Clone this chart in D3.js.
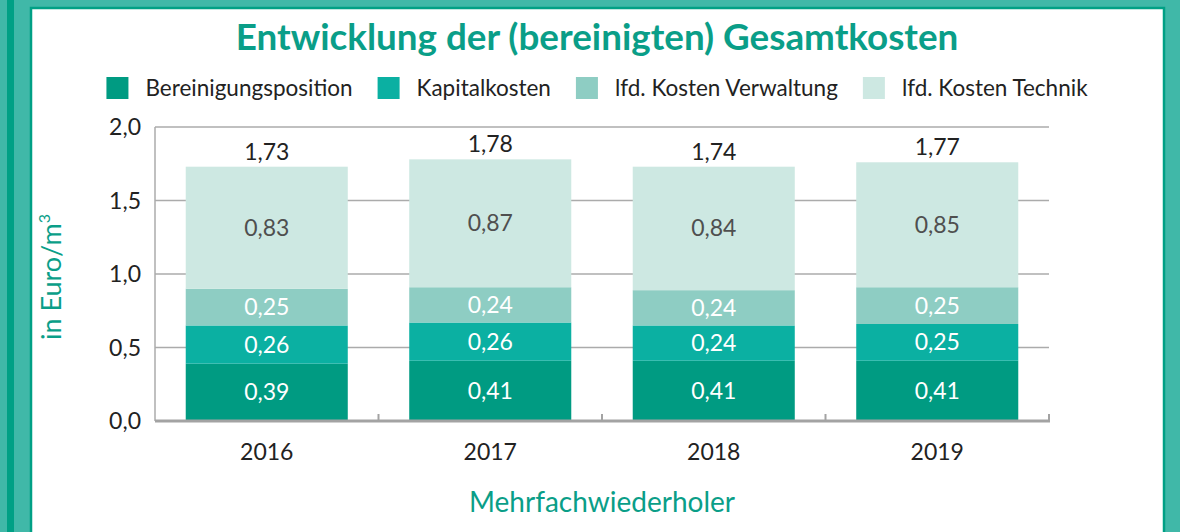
<!DOCTYPE html>
<html>
<head>
<meta charset="utf-8">
<script src="https://cdn.jsdelivr.net/npm/d3@7"></script>
<style>
  body { margin: 0; background: #fff; }
  svg { display: block; font-family: Lato, "Open Sans", sans-serif; }
</style>
</head>
<body>
<svg id="chart" width="1180" height="532"></svg>
<script>
// data
const years = ['2016', '2017', '2018', '2019'];
const seriesNames = ['Bereinigungsposition', 'Kapitalkosten', 'lfd. Kosten Verwaltung', 'lfd. Kosten Technik'];
const bereinigung = [0.39, 0.41, 0.41, 0.41];
const kapital = [0.26, 0.26, 0.24, 0.25];
const verwaltung = [0.25, 0.24, 0.24, 0.25];
const technik = [0.83, 0.87, 0.84, 0.85];
const totals = [1.73, 1.78, 1.74, 1.77];
const yTicks = [0, 0.5, 1.0, 1.5, 2.0];

const colors = ['#009b82', '#0bb0a2', '#8ecdc3', '#cde8e2'];
const labelColors = ['#fff', '#fff', '#fff', '#4f4f4f'];
const teal = '#0a9e88';
const frameLight = '#40b8a8';
const frameDark = '#00a085';

const W = 1180, H = 532;
const plot = { left: 155, right: 1049, top: 127, bottom: 421 };

const de = d3.formatLocale({ decimal: ',', thousands: '.', grouping: [3], currency: ['', ' €'] });
const f1 = de.format('.1f');
const f2 = de.format('.2f');

const svg = d3.select('#chart');

// frame
svg.append('rect').attr('width', W).attr('height', H).attr('fill', frameLight);
svg.append('rect').attr('x', 7).attr('y', 0).attr('width', 7).attr('height', H).attr('fill', frameDark);
svg.append('rect')
  .attr('x', 31).attr('y', 8).attr('width', 1133).attr('height', H)
  .attr('fill', '#fff').attr('stroke', frameDark).attr('stroke-width', 2.5);

// title
const title = svg.append('text')
  .attr('x', 597).attr('y', 50)
  .attr('text-anchor', 'middle')
  .attr('font-weight', 700)
  .attr('font-size', 32)
  .attr('fill', teal)
  .text('Entwicklung der (bereinigten) Gesamtkosten');
const tLen = title.node().getComputedTextLength();
title.attr('font-size', 32 * 723 / tLen);

// legend
const legend = svg.append('g');
let lx = 0;
seriesNames.forEach((name, i) => {
  const g = legend.append('g').attr('transform', `translate(${lx},0)`);
  g.append('rect').attr('x', 0).attr('y', -11).attr('width', 22).attr('height', 22).attr('fill', colors[i]);
  const t = g.append('text')
    .attr('x', 39).attr('y', 8)
    .attr('font-size', 22.5)
    .attr('fill', '#222')
    .text(name);
  lx += 39 + t.node().getComputedTextLength() + 25;
});
lx -= 25;
legend.attr('transform', `translate(${597 - lx / 2},88)`);

// scales
const x = d3.scaleBand().domain(years).range([plot.left, plot.right])
  .paddingInner(0.275).paddingOuter(0.1375);
const y = d3.scaleLinear().domain([0, 2]).range([plot.bottom, plot.top]);

// gridlines
svg.append('g').selectAll('line')
  .data(yTicks.filter(d => d > 0))
  .join('line')
  .attr('x1', plot.left).attr('x2', plot.right)
  .attr('y1', d => y(d)).attr('y2', d => y(d))
  .attr('stroke', '#ababab').attr('stroke-width', 1.5);

svg.append('line')
  .attr('x1', plot.left).attr('x2', plot.left)
  .attr('y1', y(2)).attr('y2', y(0))
  .attr('stroke', '#ababab').attr('stroke-width', 1.5);

// y tick labels
svg.append('g').selectAll('text')
  .data(yTicks)
  .join('text')
  .attr('x', 141).attr('y', d => y(d) + 8)
  .attr('text-anchor', 'end')
  .attr('font-size', 23)
  .attr('fill', '#222')
  .text(d => f1(d));

// stacked bars
const table = years.map((yr, i) => ({
  year: yr,
  [seriesNames[0]]: bereinigung[i],
  [seriesNames[1]]: kapital[i],
  [seriesNames[2]]: verwaltung[i],
  [seriesNames[3]]: technik[i]
}));
const stacked = d3.stack().keys(seriesNames)(table);

const layers = svg.append('g').selectAll('g')
  .data(stacked)
  .join('g')
  .attr('fill', (d, i) => colors[i]);

layers.selectAll('rect')
  .data(d => d)
  .join('rect')
  .attr('x', d => x(d.data.year))
  .attr('width', x.bandwidth())
  .attr('y', d => y(d[1]))
  .attr('height', d => y(d[0]) - y(d[1]));

stacked.forEach((layer, li) => {
  svg.append('g').selectAll('text')
    .data(layer)
    .join('text')
    .attr('x', d => x(d.data.year) + x.bandwidth() / 2)
    .attr('y', d => (y(d[0]) + y(d[1])) / 2 + 8)
    .attr('text-anchor', 'middle')
    .attr('font-size', 23)
    .attr('fill', labelColors[li])
    .text(d => f2(d[1] - d[0]));
});

// totals
const topLayer = stacked[stacked.length - 1];
svg.append('g').selectAll('text')
  .data(years)
  .join('text')
  .attr('x', d => x(d) + x.bandwidth() / 2)
  .attr('y', (d, i) => y(topLayer[i][1]) - 7)
  .attr('text-anchor', 'middle')
  .attr('font-size', 23)
  .attr('fill', '#222')
  .text((d, i) => f2(totals[i]));

// x axis
svg.append('line')
  .attr('x1', plot.left).attr('x2', plot.right + 1)
  .attr('y1', plot.bottom).attr('y2', plot.bottom)
  .attr('stroke', '#a3a3a3').attr('stroke-width', 3);

svg.append('g').selectAll('line')
  .data(d3.range(1, years.length + 1))
  .join('line')
  .attr('x1', i => plot.left + i * x.step()).attr('x2', i => plot.left + i * x.step())
  .attr('y1', plot.bottom).attr('y2', plot.bottom - 7)
  .attr('stroke', '#a3a3a3').attr('stroke-width', 2);

svg.append('g').selectAll('text')
  .data(years)
  .join('text')
  .attr('x', d => x(d) + x.bandwidth() / 2)
  .attr('y', 460)
  .attr('text-anchor', 'middle')
  .attr('font-size', 23)
  .attr('fill', '#222')
  .text(d => d);

// axis titles
svg.append('text')
  .attr('x', 602).attr('y', 512)
  .attr('text-anchor', 'middle')
  .attr('font-size', 28)
  .attr('fill', teal)
  .text('Mehrfachwiederholer');

const yt = svg.append('text')
  .attr('transform', 'translate(61,277) rotate(-90)')
  .attr('text-anchor', 'middle')
  .attr('font-size', 27)
  .attr('fill', teal);
yt.append('tspan').text('in Euro/m');
yt.append('tspan').attr('font-size', 16).attr('dy', -11).text('3');
</script>
</body>
</html>
